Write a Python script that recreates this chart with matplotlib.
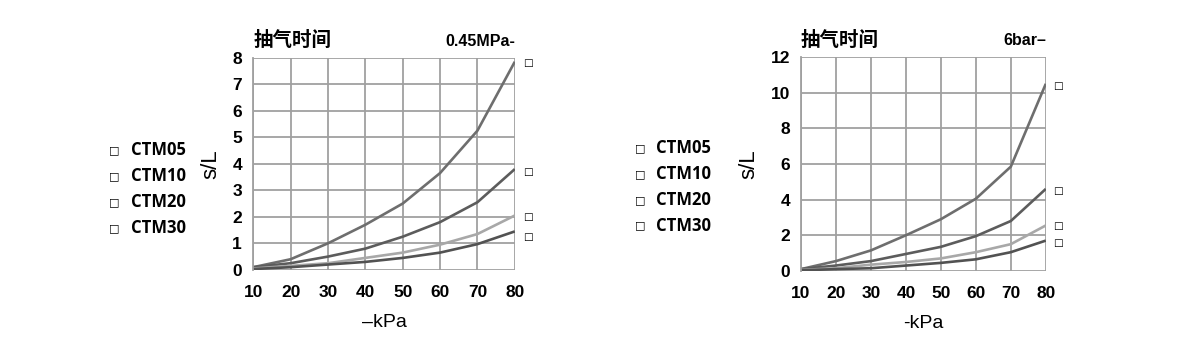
import matplotlib
matplotlib.use("Agg")
import matplotlib.pyplot as plt

plt.rcParams['font.family'] = ['Liberation Sans', 'Noto Sans CJK SC', 'DejaVu Sans']

kpa = [10, 20, 30, 40, 50, 60, 70, 80]
series_names = ["CTM05", "CTM10", "CTM20", "CTM30"]

# 0.45MPa
left_a = [0.1, 0.4, 1.0, 1.7, 2.5, 3.65, 5.25, 7.85]
left_b = [0.1, 0.25, 0.5, 0.8, 1.25, 1.8, 2.55, 3.8]
left_c = [0.05, 0.15, 0.25, 0.45, 0.65, 0.95, 1.35, 2.05]
left_d = [0.03, 0.1, 0.2, 0.3, 0.45, 0.65, 0.97, 1.45]

# 6bar
right_a = [0.1, 0.55, 1.15, 2.0, 2.9, 4.05, 5.85, 10.5]
right_b = [0.1, 0.3, 0.55, 0.95, 1.35, 1.95, 2.8, 4.6]
right_c = [0.05, 0.15, 0.35, 0.5, 0.7, 1.05, 1.5, 2.55]
right_d = [0.03, 0.1, 0.15, 0.3, 0.45, 0.65, 1.05, 1.7]

colors = ["#6e6e6e", "#5c5c5c", "#a8a8a8", "#525252"]

fig = plt.figure(figsize=(12, 3.5), dpi=100)


def draw(rect, data, ymax, ystep, tag, xlab, label_y, legend_x, legend_y):
    ax = fig.add_axes(rect)
    for vals, c in zip(data, colors):
        ax.plot(kpa, vals, color=c, lw=1.9, solid_capstyle="butt")
    ax.set_xlim(10, 80)
    ax.set_ylim(0, ymax)
    ax.set_xticks(kpa)
    ax.set_yticks(range(0, ymax + 1, ystep))
    ax.grid(True, color="#a0a0a0", lw=1.3)
    ax.set_axisbelow(True)
    for s in ["top", "right", "bottom"]:
        ax.spines[s].set_visible(False)
    ax.spines["left"].set_color("#a0a0a0")
    ax.spines["left"].set_linewidth(1.3)
    ax.tick_params(axis="x", length=0, labelsize=12.5, pad=11)
    ax.tick_params(axis="y", length=0, labelsize=12.5, pad=8)
    for t in ax.get_xticklabels() + ax.get_yticklabels():
        t.set_fontweight("bold")
    ax.set_ylabel("s/L", fontsize=16, labelpad=8)
    ax.set_xlabel(xlab, fontsize=14, labelpad=10)
    ax.text(0.0, 1.035, "抽气时间", transform=ax.transAxes, fontsize=14,
            fontweight="bold", ha="left", va="bottom",
            family=['Noto Sans CJK SC', 'DejaVu Sans'])
    ax.text(1.0, 1.04, tag, transform=ax.transAxes, fontsize=11.5,
            fontweight="bold", ha="right", va="bottom")
    for vals, yl in zip(data, label_y):
        ax.text(1.03, yl, "□", transform=ax.get_yaxis_transform(), fontsize=7.5,
                ha="left", va="center", family=['DejaVu Sans'])
    for i, name in enumerate(series_names):
        fig.text(legend_x, legend_y - i * 0.074, "□", fontsize=8, ha="left",
                 va="center", family=['DejaVu Sans'])
        fig.text(legend_x + 0.018, legend_y - i * 0.074, name, fontsize=12,
                 fontweight="bold", ha="left", va="center",
                 family=['Open Sans', 'DejaVu Sans'])
    return ax


draw([0.211, 0.229, 0.218, 0.606], [left_a, left_b, left_c, left_d], 8, 1,
     "0.45MPa-", "–kPa", [7.8, 3.7, 2.0, 1.25], 0.091, 0.571)
draw([0.6675, 0.226, 0.204, 0.611], [right_a, right_b, right_c, right_d], 12, 2,
     "6bar–", "-kPa", [10.4, 4.5, 2.5, 1.55], 0.529, 0.577)

fig.savefig("out.png", dpi=100)
